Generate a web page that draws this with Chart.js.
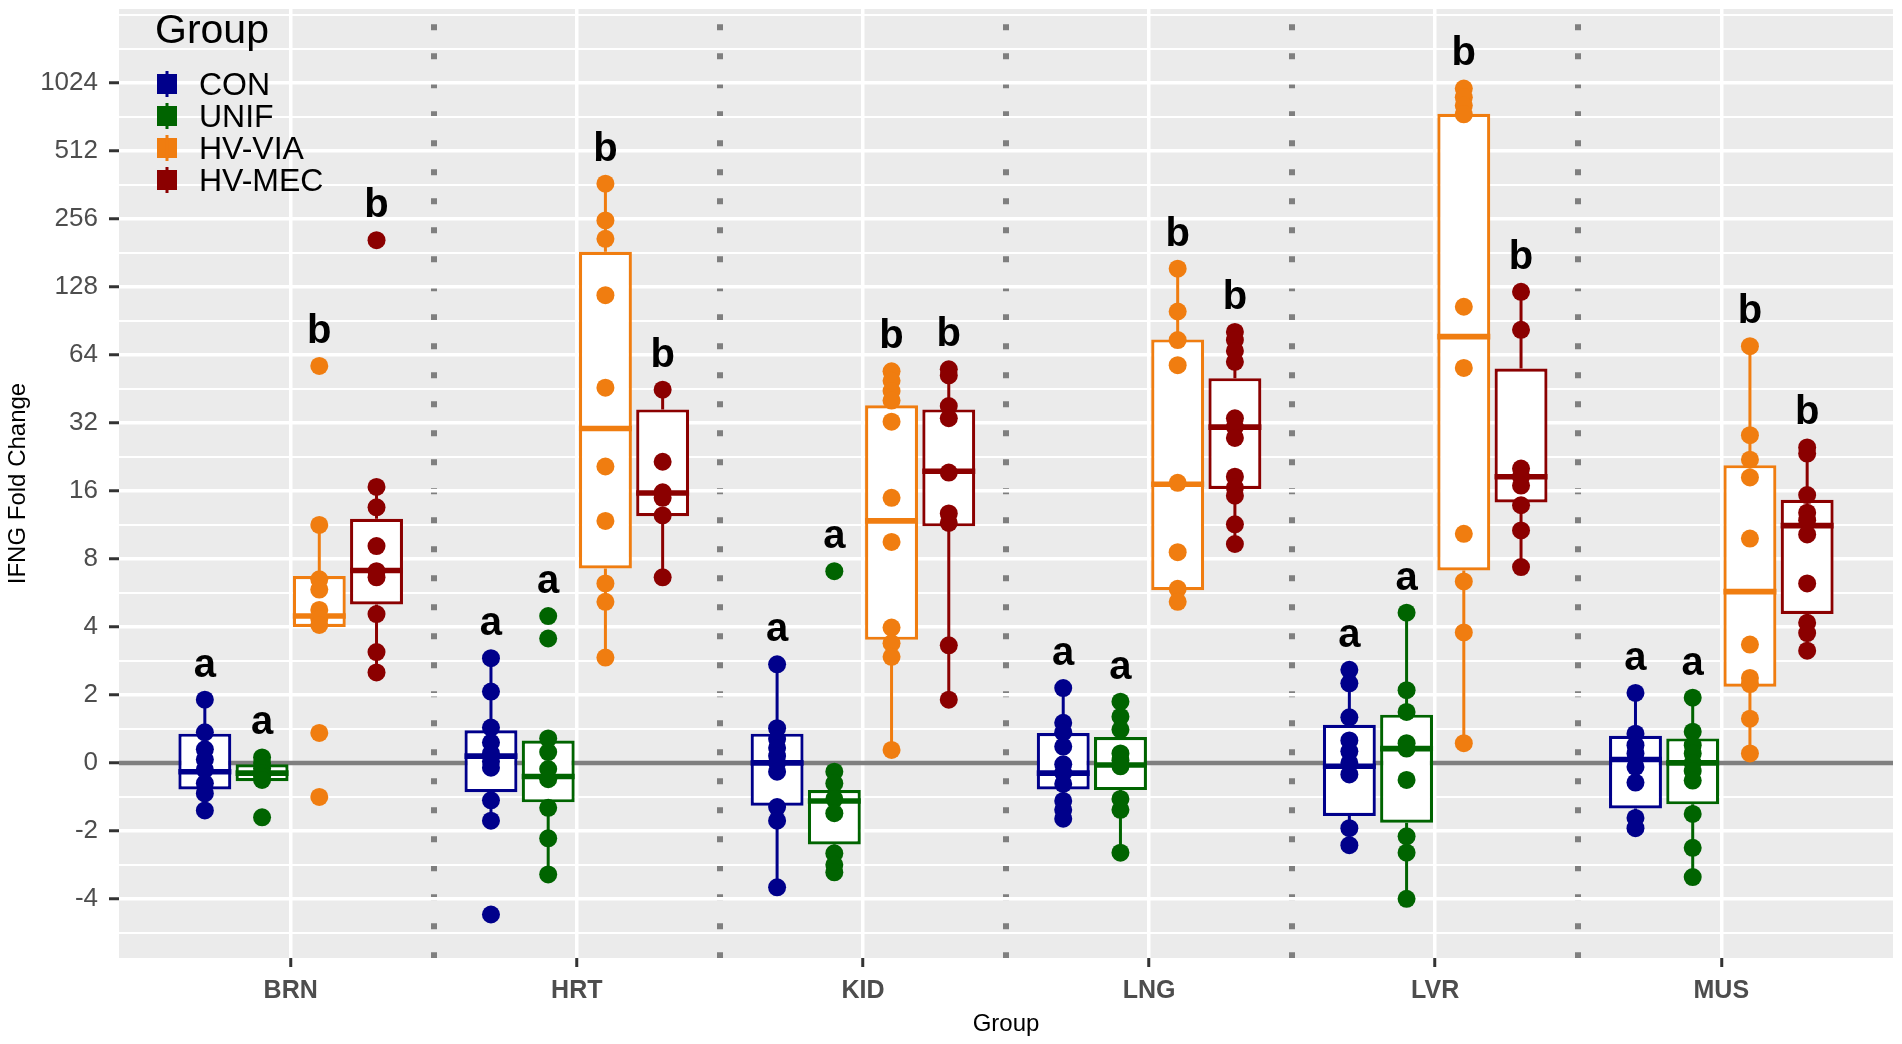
<!DOCTYPE html>
<html>
<head>
<meta charset="utf-8">
<title>IFNG Fold Change</title>
<script src="https://cdn.jsdelivr.net/npm/chart.js@4.4.1/dist/chart.umd.min.js"></script>
<style>
  html, body { margin: 0; padding: 0; background: #ffffff; }
  #wrap { width: 1902px; height: 1044px; }
</style>
</head>
<body>
<div id="wrap"><canvas id="chart"></canvas></div>
<script>
const tissues = ["BRN", "HRT", "KID", "LNG", "LVR", "MUS"];
const groups = ["CON", "UNIF", "HV-VIA", "HV-MEC"];
const groupColors = ["#00008B", "#006400", "#F07D10", "#8B0000"];

// the axis runs in log2 steps; these are the labels printed at each step
const tickValues = [-2, -1, 0, 1, 2, 3, 4, 5, 6, 7, 8, 9, 10];
const tickLabels = ["-4", "-2", "0", "2", "4", "8", "16", "32", "64", "128", "256", "512", "1024"];

// points per tissue (BRN, HRT, KID, LNG, LVR, MUS), log2 units
const conPoints = [
  [0.93, 0.45, 0.2, 0.05, -0.1, -0.3, -0.45, -0.7],
  [1.54, 1.05, 0.52, 0.3, 0.14, 0.02, -0.07, -0.55, -0.85, -2.23],
  [1.45, 0.51, 0.35, 0.22, 0.1, 0.0, -0.13, -0.65, -0.85, -1.83],
  [1.1, 0.59, 0.45, 0.24, -0.02, -0.15, -0.31, -0.56, -0.69, -0.82],
  [1.37, 1.17, 0.67, 0.33, 0.17, 0.0, -0.17, -0.96, -1.21],
  [1.03, 0.43, 0.26, 0.14, -0.06, -0.29, -0.81, -0.96],
];
const unifPoints = [
  [0.08, 0.0, -0.08, -0.15, -0.2, -0.25, -0.8],
  [2.16, 1.83, 0.36, 0.16, -0.09, -0.24, -0.66, -1.11, -1.64],
  [2.82, -0.13, -0.3, -0.53, -0.74, -1.33, -1.5, -1.61],
  [0.9, 0.68, 0.49, 0.14, 0.04, -0.05, -0.53, -0.69, -1.32],
  [2.21, 1.07, 0.75, 0.29, 0.21, -0.25, -1.08, -1.32, -2.0],
  [0.96, 0.46, 0.26, 0.14, 0.0, -0.12, -0.26, -0.75, -1.25, -1.68],
];
const viaPoints = [
  [5.84, 3.5, 2.7, 2.55, 2.25, 2.12, 2.03, 0.44, -0.5],
  [8.52, 7.98, 7.71, 6.88, 5.52, 4.36, 3.56, 2.64, 2.37, 1.55],
  [5.76, 5.62, 5.47, 5.33, 5.02, 3.9, 3.25, 1.99, 1.76, 1.56, 0.19],
  [7.27, 6.64, 6.22, 5.85, 4.12, 3.1, 2.56, 2.37],
  [9.92, 9.79, 9.67, 9.54, 6.71, 5.81, 3.37, 2.67, 1.92, 0.29],
  [6.13, 4.82, 4.46, 4.2, 3.3, 1.74, 1.25, 1.16, 0.65, 0.14],
];
const mecPoints = [
  [7.69, 4.06, 3.76, 3.19, 2.82, 2.73, 2.19, 1.63, 1.33],
  [5.49, 4.43, 3.98, 3.9, 3.64, 2.73],
  [5.79, 5.7, 5.25, 5.07, 4.27, 3.67, 3.53, 1.73, 0.93],
  [6.34, 6.22, 6.06, 5.9, 5.07, 4.94, 4.78, 4.21, 4.05, 3.93, 3.51, 3.22],
  [6.93, 6.37, 4.33, 4.21, 4.08, 3.79, 3.42, 2.88],
  [4.64, 4.55, 3.94, 3.68, 3.57, 3.36, 2.64, 2.06, 1.91, 1.65],
];

// [q1, median, q3] per tissue
const conBox = [[-0.39, -0.13, 0.43], [-0.43, 0.1, 0.48], [-0.63, 0.0, 0.43], [-0.39, -0.15, 0.44], [-0.78, -0.05, 0.56], [-0.67, 0.05, 0.4]];
const unifBox = [[-0.27, -0.15, -0.02], [-0.58, -0.2, 0.33], [-1.2, -0.56, -0.4], [-0.4, -0.03, 0.38], [-0.88, 0.21, 0.71], [-0.61, 0.0, 0.36]];
const viaBox = [[2.0, 2.16, 2.75], [2.86, 4.92, 7.52], [1.81, 3.56, 5.26], [2.54, 4.1, 6.23], [2.83, 6.27, 9.55], [1.12, 2.52, 4.38]];
const mecBox = [[2.33, 2.83, 3.59], [3.63, 3.97, 5.2], [3.48, 4.29, 5.2], [4.03, 4.94, 5.66], [3.83, 4.21, 5.8], [2.19, 3.49, 3.87]];

const conLetters = ["a", "a", "a", "a", "a", "a"];
const unifLetters = ["a", "a", "a", "a", "a", "a"];
const viaLetters = ["b", "b", "b", "b", "b", "b"];
const mecLetters = ["b", "b", "b", "b", "b", "b"];

const FONT = "'Liberation Sans', Arial, sans-serif";
Chart.defaults.font.family = FONT;

const allPoints = [conPoints, unifPoints, viaPoints, mecPoints];
const allBoxes = [conBox, unifBox, viaBox, mecBox];
const allLetters = [conLetters, unifLetters, viaLetters, mecLetters];
const dodge = [-0.3, -0.1, 0.1, 0.3];

const boxData = [];
const boxColors = [];
const boxInfo = [];
groups.forEach((g, gi) => {
  tissues.forEach((t, ti) => {
    const [q1, med, q3] = allBoxes[gi][ti];
    const pts = allPoints[gi][ti];
    const iqr = q3 - q1;
    // whiskers reach the furthest points within 1.5 IQR
    const inside = pts.filter(v => v >= q1 - 1.5 * iqr && v <= q3 + 1.5 * iqr);
    boxData.push({ x: ti + dodge[gi], y: [q1, q3] });
    boxColors.push(groupColors[gi]);
    boxInfo.push({
      med: med,
      lo: Math.min(q1, ...inside),
      hi: Math.max(q3, ...inside),
      q1: q1,
      q3: q3,
      color: groupColors[gi],
      top: Math.max(...pts),
      letter: allLetters[gi][ti],
    });
  });
});

const pointSets = groups.map((g, gi) => ({
  type: "scatter",
  label: g,
  data: tissues.flatMap((t, ti) => allPoints[gi][ti].map(v => ({ x: ti + dodge[gi], y: v }))),
  backgroundColor: groupColors[gi],
  borderWidth: 0,
  pointRadius: 9,
  order: 1,
}));

const isWhole = v => Math.abs(v - Math.round(v)) < 1e-6;
// dotted separators only between tissues, not at the panel edges
const isSeparator = v => !isWhole(v) && v > 0 && v < tissues.length - 1;

const panelBg = {
  id: "panelBg",
  beforeDraw(chart) {
    const { ctx, chartArea: a } = chart;
    ctx.save();
    ctx.fillStyle = "#EBEBEB";
    ctx.fillRect(a.left, a.top, a.right - a.left, a.bottom - a.top);
    ctx.restore();
  },
};

const zeroLine = {
  id: "zeroLine",
  beforeDatasetsDraw(chart) {
    const { ctx, chartArea: a } = chart;
    const y = chart.scales.y.getPixelForValue(0);
    ctx.save();
    ctx.strokeStyle = "#7F7F7F";
    ctx.lineWidth = 4.5;
    ctx.beginPath();
    ctx.moveTo(a.left, y);
    ctx.lineTo(a.right, y);
    ctx.stroke();
    ctx.restore();
  },
};

const boxParts = {
  id: "boxParts",
  afterDatasetDraw(chart, args) {
    if (args.meta.type !== "bar") return;
    const { ctx } = chart;
    const ys = chart.scales.y;
    ctx.save();
    args.meta.data.forEach((el, i) => {
      const b = boxInfo[i];
      ctx.strokeStyle = b.color;
      ctx.lineWidth = 3;
      ctx.beginPath();
      ctx.moveTo(el.x, ys.getPixelForValue(b.hi));
      ctx.lineTo(el.x, ys.getPixelForValue(b.q3));
      ctx.moveTo(el.x, ys.getPixelForValue(b.q1));
      ctx.lineTo(el.x, ys.getPixelForValue(b.lo));
      ctx.stroke();
      const my = ys.getPixelForValue(b.med);
      ctx.lineWidth = 5.6;
      ctx.beginPath();
      ctx.moveTo(el.x - el.width / 2, my);
      ctx.lineTo(el.x + el.width / 2, my);
      ctx.stroke();
    });
    ctx.restore();
  },
};

const letters = {
  id: "letters",
  afterDatasetsDraw(chart) {
    const { ctx } = chart;
    const xs = chart.scales.x;
    const ys = chart.scales.y;
    ctx.save();
    ctx.fillStyle = "#000000";
    ctx.font = "bold 40px " + FONT;
    ctx.textAlign = "center";
    ctx.textBaseline = "alphabetic";
    boxData.forEach((d, i) => {
      const b = boxInfo[i];
      ctx.fillText(b.letter, xs.getPixelForValue(d.x), ys.getPixelForValue(b.top + 0.34));
    });
    ctx.restore();
  },
};

const groupLegend = {
  id: "groupLegend",
  afterDraw(chart) {
    const { ctx, chartArea: a } = chart;
    ctx.save();
    ctx.fillStyle = "#000000";
    ctx.textAlign = "left";
    ctx.textBaseline = "alphabetic";
    ctx.font = "41px " + FONT;
    ctx.fillText("Group", a.left + 36, a.top + 34);
    ctx.font = "32px " + FONT;
    groups.forEach((g, gi) => {
      const base = a.top + 86 + gi * 32;
      const cy = base - 11;
      const cx = a.left + 48;
      ctx.fillStyle = groupColors[gi];
      ctx.fillRect(cx - 10, cy - 10, 20, 20);
      ctx.fillRect(cx - 1.5, cy - 13, 3, 26);
      ctx.fillStyle = "#000000";
      ctx.fillText(g, a.left + 80, base);
    });
    ctx.restore();
  },
};

new Chart(document.getElementById("chart"), {
  type: "scatter",
  data: {
    datasets: [
      {
        type: "bar",
        label: "box",
        data: boxData,
        backgroundColor: "#FFFFFF",
        borderColor: boxColors,
        borderWidth: 3.2,
        borderSkipped: false,
        grouped: false,
        barPercentage: 0.925,
        categoryPercentage: 1,
        order: 2,
      },
      ...pointSets,
    ],
  },
  options: {
    responsive: true,
    maintainAspectRatio: false,
    devicePixelRatio: 1,
    animation: false,
    events: [],
    layout: { padding: { top: 6, right: 6, left: 0, bottom: 0 } },
    plugins: {
      legend: { display: false },
      tooltip: { enabled: false },
    },
    scales: {
      x: {
        type: "linear",
        min: -0.6,
        max: 5.6,
        offset: false,
        afterFit: (s) => {
          s.height = 86;
          s.paddingLeft = 0;
          s.paddingRight = 0;
        },
        ticks: {
          stepSize: 0.5,
          autoSkip: false,
          includeBounds: false,
          maxRotation: 0,
          padding: 9,
          color: "#4D4D4D",
          font: { size: 25, weight: "bold" },
          callback: (v) => (isWhole(v) ? tissues[Math.round(v)] : ""),
        },
        grid: {
          offset: false,
          color: (c) => {
            if (!c.tick) return "#FFFFFF";
            if (isWhole(c.tick.value)) return "#FFFFFF";
            return isSeparator(c.tick.value) ? "#7F7F7F" : "rgba(0,0,0,0)";
          },
          lineWidth: (c) => (c.tick && !isWhole(c.tick.value) ? 6 : 3.5),
          tickColor: (c) => (c.tick && !isWhole(c.tick.value) ? "rgba(0,0,0,0)" : "#333333"),
          tickLength: 9,
          tickWidth: 3,
        },
        border: {
          display: false,
          dash: (c) => (c.tick && !isWhole(c.tick.value) ? [6, 23] : []),
          dashOffset: (c) => (c.tick && !isWhole(c.tick.value) ? 13.7 : 0),
        },
        title: {
          display: true,
          text: "Group",
          color: "#000000",
          font: { size: 24 },
          padding: { top: 0, bottom: 5 },
        },
      },
      y: {
        type: "linear",
        min: -2.87,
        max: 11.09,
        afterFit: (s) => {
          s.width = 119;
          s.paddingTop = 0;
          s.paddingBottom = 0;
        },
        ticks: {
          stepSize: 0.5,
          autoSkip: false,
          includeBounds: false,
          padding: 11,
          color: "#4D4D4D",
          font: { size: 26 },
          callback: (v) => {
            const k = tickValues.findIndex((t) => Math.abs(t - v) < 1e-6);
            return k >= 0 ? tickLabels[k] : "";
          },
        },
        grid: {
          color: "#FFFFFF",
          lineWidth: (c) => (c.tick && isWhole(c.tick.value) && c.tick.value <= 10 ? 3.5 : 2),
          tickColor: (c) => (c.tick && isWhole(c.tick.value) && c.tick.value <= 10 ? "#333333" : "rgba(0,0,0,0)"),
          tickLength: 10,
          tickWidth: 3,
        },
        border: { display: false },
        title: {
          display: true,
          text: "IFNG Fold Change",
          color: "#000000",
          font: { size: 24 },
          padding: { top: 4, bottom: 0 },
        },
      },
    },
  },
  plugins: [panelBg, zeroLine, boxParts, letters, groupLegend],
});
</script>
</body>
</html>
